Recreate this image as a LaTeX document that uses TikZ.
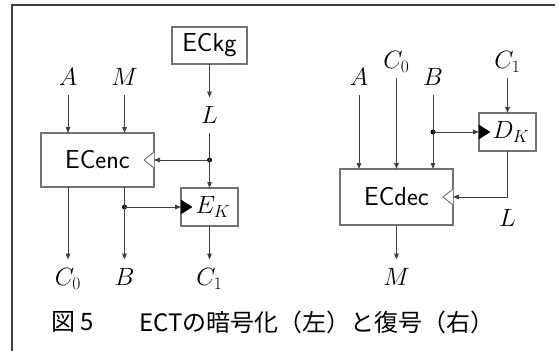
\documentclass[tikz,border=0pt]{standalone}
\usepackage{fix-cm}
\usepackage{fontspec}
\newfontfamily\jpfont{Noto Sans CJK JP}
\usetikzlibrary{arrows.meta}
\tikzset{
  ln/.style={draw=black!75, line width=0.9pt},
  arr/.style={ln, -{Triangle[length=6pt,width=4.6pt]}},
  box/.style={draw=black!55, line width=1.1pt, inner sep=0pt, outer sep=0pt, fill=white},
  lbl/.style={inner sep=0pt, outer ysep=9pt, text height=17pt, text depth=0pt, font=\fontsize{25}{30}\selectfont},
  sf/.style={font=\sffamily\fontsize{26}{30}\selectfont},
  mathbox/.style={font=\fontsize{25}{30}\selectfont},
  dot/.style={circle, fill=black, inner sep=0pt, minimum size=5pt},
  opentri/.style={draw=black!55, line width=0.9pt, fill=white},
  filltri/.style={fill=black},
  captext/.style={anchor=west, inner sep=0pt, font=\jpfont\fontsize{24}{28}\selectfont},
  framestyle/.style={draw=black!75, line width=1.8pt},
}
\begin{document}
\begin{tikzpicture}[x=1pt,y=-1pt]
\useasboundingbox (0,0) rectangle (558,351);
\draw[framestyle] (12,351) -- (12,5) -- (555,5);

% ---- left: encryption
\node[box, sf, minimum width=75pt, minimum height=37pt] (ECkg) at (209.5,45.5) {ECkg};
\node[lbl] (A) at (68,77) {$A$};
\node[lbl] (M) at (124.5,77) {$M$};
\node[lbl] (L) at (209.5,115) {$L$};
\node[box, sf, minimum width=113pt, minimum height=54pt] (ECenc) at (97.5,160) {ECenc};
\node[box, mathbox, minimum width=57pt, minimum height=38pt] (EK) at (209.5,207) {$\;E_K$};
\node[dot] (d1) at (209.5,160) {};
\node[dot] (d2) at (124.5,207) {};
\node[lbl] (C0) at (68,277) {$C_0$};
\node[lbl] (B) at (124.5,277) {$B$};
\node[lbl] (C1) at (209.5,277) {$C_1$};

\draw[opentri] ([shift={(0,-8)}]ECenc.east) -- ([shift={(-10,0)}]ECenc.east) -- ([shift={(0,8)}]ECenc.east);
\draw[filltri] ([shift={(0,-7)}]EK.west) -- ([shift={(11,0)}]EK.west) -- ([shift={(0,7)}]EK.west) -- cycle;

\draw[arr] (ECkg.south) -- (L.north);
\draw[ln] (L.south) -- (d1.center);
\draw[arr] (d1.center) -- (EK.north);
\draw[arr] (d1.center) -- (ECenc.east);
\draw[arr] (A.south) -- (A.south |- ECenc.north);
\draw[arr] (M.south) -- (M.south |- ECenc.north);
\draw[arr] (C0.north |- ECenc.south) -- (C0.north);
\draw[ln] (B.north |- ECenc.south) -- (d2.center);
\draw[arr] (d2.center) -- (B.north);
\draw[arr] (d2.center) -- (EK.west);
\draw[arr] (EK.south) -- (C1.north);

% ---- right: decryption
\node[lbl] (A2) at (359,77) {$A$};
\node[lbl] (C02) at (396.5,60) {$C_0$};
\node[lbl] (B2) at (433,77) {$B$};
\node[lbl] (C12) at (507.5,60) {$C_1$};
\node[box, mathbox, minimum width=57pt, minimum height=38pt] (DK) at (507.5,132) {$\;D_K$};
\node[box, sf, minimum width=113pt, minimum height=56pt] (ECdec) at (396.5,197) {ECdec};
\node[dot] (d3) at (433,132) {};
\coordinate (corner) at (507.5,197);
\node[lbl] (L2) at (507.5,218) {$L$};
\node[lbl] (M2) at (396.5,277) {$M$};

\draw[opentri] ([shift={(0,-8)}]ECdec.east) -- ([shift={(-10,0)}]ECdec.east) -- ([shift={(0,8)}]ECdec.east);
\draw[filltri] ([shift={(0,-7)}]DK.west) -- ([shift={(11,0)}]DK.west) -- ([shift={(0,7)}]DK.west) -- cycle;

\draw[arr] (A2.south) -- (A2.south |- ECdec.north);
\draw[arr] (C02.south) -- (C02.south |- ECdec.north);
\draw[ln] (B2.south) -- (d3.center);
\draw[arr] (d3.center) -- (B2.south |- ECdec.north);
\draw[arr] (d3.center) -- (DK.west);
\draw[arr] (C12.south) -- (DK.north);
\draw[arr] (DK.south) -- (corner) -- (ECdec.east);
\draw[arr] (ECdec.south) -- (M2.north);

% ---- caption
\node[captext] (cap1) at (51,322) {図 5};
\node[captext] (cap2) at (139,322) {ECTの暗号化（左）と復号（右）};
\end{tikzpicture}
\end{document}
